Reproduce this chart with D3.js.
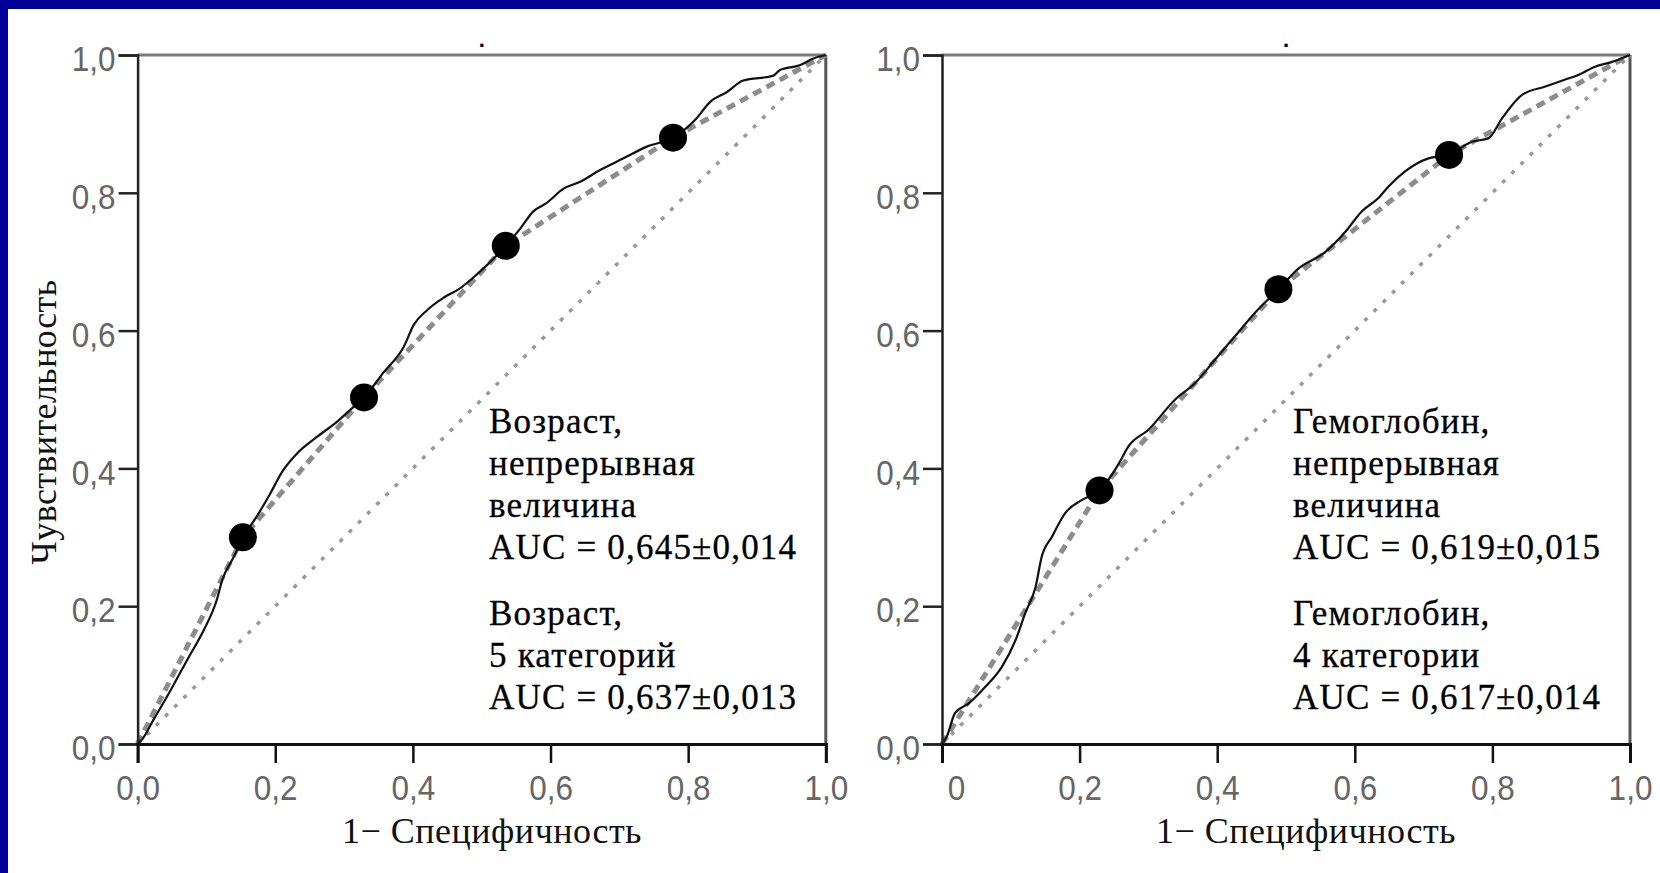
<!DOCTYPE html>
<html>
<head>
<meta charset="utf-8">
<script src="https://cdn.jsdelivr.net/npm/d3@7"></script>
<style>
  body { margin: 0; background: #fff; }
  svg { display: block; }
</style>
</head>
<body>
<svg id="chart" width="1660" height="873"></svg>
<script>
// tick values and labels
var ticks = [0, 0.2, 0.4, 0.6, 0.8, 1.0];
var yTickLabels = ["0,0", "0,2", "0,4", "0,6", "0,8", "1,0"];
var xTickLabelsLeft = ["0,0", "0,2", "0,4", "0,6", "0,8", "1,0"];
var xTickLabelsRight = ["0", "0,2", "0,4", "0,6", "0,8", "1,0"];

// Возраст: непрерывная величина (1-спец., чувств.)
var ageContinuous = [
  [0, 0], [0.006, 0.006], [0.023, 0.035], [0.048, 0.078], [0.072, 0.122],
  [0.096, 0.165], [0.115, 0.209], [0.123, 0.238], [0.140, 0.272], [0.153, 0.300],
  [0.173, 0.330], [0.193, 0.364], [0.210, 0.395], [0.232, 0.422], [0.261, 0.446],
  [0.290, 0.468], [0.309, 0.485], [0.329, 0.503], [0.358, 0.540], [0.387, 0.577],
  [0.401, 0.608], [0.421, 0.630], [0.445, 0.648], [0.468, 0.661], [0.498, 0.686],
  [0.535, 0.723], [0.556, 0.748], [0.575, 0.773], [0.594, 0.785], [0.619, 0.806],
  [0.643, 0.816], [0.672, 0.833], [0.706, 0.850], [0.740, 0.867], [0.778, 0.880],
  [0.812, 0.908], [0.832, 0.932], [0.856, 0.946], [0.880, 0.963], [0.924, 0.970],
  [0.933, 0.978], [0.962, 0.985], [0.982, 0.995], [1, 1]
];
// Возраст: 5 категорий
var ageCategories = [[0, 0], [0.153, 0.300], [0.329, 0.503], [0.535, 0.723], [0.778, 0.880], [1, 1]];
var ageCutPoints = [[0.153, 0.300], [0.329, 0.503], [0.535, 0.723], [0.778, 0.880]];

// Гемоглобин: непрерывная величина
var hbContinuous = [
  [0, 0], [0.007, 0.011], [0.019, 0.045], [0.039, 0.059], [0.063, 0.083],
  [0.087, 0.112], [0.107, 0.151], [0.121, 0.190], [0.136, 0.228], [0.145, 0.272],
  [0.160, 0.301], [0.179, 0.335], [0.203, 0.354], [0.229, 0.368], [0.257, 0.407],
  [0.271, 0.432], [0.300, 0.456], [0.339, 0.500], [0.368, 0.524], [0.397, 0.558],
  [0.426, 0.592], [0.455, 0.626], [0.489, 0.660], [0.518, 0.690], [0.557, 0.714],
  [0.586, 0.743], [0.610, 0.773], [0.634, 0.792], [0.649, 0.809], [0.673, 0.831],
  [0.707, 0.850], [0.737, 0.855], [0.770, 0.874], [0.794, 0.879], [0.814, 0.908],
  [0.843, 0.942], [0.876, 0.954], [0.905, 0.964], [0.925, 0.971], [0.949, 0.983],
  [0.974, 0.990], [1, 1]
];
// Гемоглобин: 4 категории
var hbCategories = [[0, 0], [0.229, 0.368], [0.489, 0.660], [0.737, 0.855], [1, 1]];
var hbCutPoints = [[0.229, 0.368], [0.489, 0.660], [0.737, 0.855]];

var diagonal = [[0, 0], [1, 1]];

var legendLeft1 = ["Возраст,", "непрерывная", "величина", "AUC = 0,645±0,014"];
var legendLeft2 = ["Возраст,", "5 категорий", "AUC = 0,637±0,013"];
var legendRight1 = ["Гемоглобин,", "непрерывная", "величина", "AUC = 0,619±0,015"];
var legendRight2 = ["Гемоглобин,", "4 категории", "AUC = 0,617±0,014"];

var svg = d3.select("#chart");
var sans = "'Liberation Sans', Arial, sans-serif";
var serif = "'Liberation Serif', 'Times New Roman', serif";
var squeeze = 0.9;   // tick labels are a bit narrow in the original

// blue slide frame (top and left)
svg.append("rect").attr("x", 0).attr("y", 0).attr("width", 1660).attr("height", 9).style("fill", "#000096");
svg.append("rect").attr("x", 0).attr("y", 0).attr("width", 8).attr("height", 873).style("fill", "#000096");

function panel(x0, x1, cont, cats, cuts, xLabels, legend1, legend2, legendX, xTitleX, showYTitle) {
  var x = d3.scaleLinear().domain([0, 1]).range([x0, x1]);
  var y = d3.scaleLinear().domain([0, 1]).range([744, 55]);

  // top and right frame
  svg.append("line").attr("x1", x(0)).attr("x2", x(1)).attr("y1", y(1)).attr("y2", y(1))
    .style("stroke", "#7a7a7a").style("stroke-width", 3);
  svg.append("line").attr("x1", x(1)).attr("x2", x(1)).attr("y1", y(1)).attr("y2", y(0))
    .style("stroke", "#555").style("stroke-width", 3);

  var line = d3.line().x(function(d) { return x(d[0]); }).y(function(d) { return y(d[1]); });

  svg.append("path").datum(diagonal).attr("d", line)
    .style("fill", "none").style("stroke", "#999").style("stroke-width", 3.5)
    .style("stroke-dasharray", "4,9");

  svg.append("path").datum(cats).attr("d", line)
    .style("fill", "none").style("stroke", "#8c8c8c").style("stroke-width", 5)
    .style("stroke-dasharray", "9,6");

  var smooth = d3.line().x(function(d) { return x(d[0]); }).y(function(d) { return y(d[1]); })
    .curve(d3.curveMonotoneX);
  svg.append("path").datum(cont).attr("d", smooth)
    .style("fill", "none").style("stroke", "#111").style("stroke-width", 2.2);

  svg.append("g").selectAll("circle").data(cuts).enter().append("circle")
    .attr("cx", function(d) { return x(d[0]); })
    .attr("cy", function(d) { return y(d[1]); })
    .attr("r", 14)
    .style("fill", "#000");

  // axes
  var yAxis = svg.append("g").attr("transform", "translate(" + x0 + ",0)")
    .call(d3.axisLeft(y).tickValues(ticks).tickSize(19).tickPadding(3)
      .tickFormat(function(d, i) { return yTickLabels[i]; }));
  yAxis.select(".domain").style("stroke", "#222").style("stroke-width", 2.5);
  yAxis.selectAll(".tick line").style("stroke", "#222").style("stroke-width", 2.5);
  yAxis.selectAll("text").attr("dy", "0.45em")
    .attr("x", -22 / squeeze).attr("transform", "scale(" + squeeze + ",1)")
    .style("font-family", sans).style("font-size", "35px").style("fill", "#666");

  var xAxis = svg.append("g").attr("transform", "translate(0,744)")
    .call(d3.axisBottom(x).tickValues(ticks).tickSize(19).tickPadding(12)
      .tickFormat(function(d, i) { return xLabels[i]; }));
  xAxis.select(".domain").style("stroke", "#111").style("stroke-width", 3);
  xAxis.selectAll(".tick line").style("stroke", "#111").style("stroke-width", 2.5);
  xAxis.selectAll("text")
    .attr("transform", "scale(" + squeeze + ",1)")
    .attr("x", function(d, i) { return xLabels[i] === "0" ? 14 / squeeze : 0; })
    .style("font-family", sans).style("font-size", "35px").style("fill", "#666");

  // little title dot
  svg.append("text").attr("x", (x0 + x1) / 2).attr("y", 47).attr("text-anchor", "middle")
    .style("font-family", sans).style("font-size", "22px").style("font-weight", "bold").text(".");

  // x title
  svg.append("text").attr("x", xTitleX).attr("y", 843).attr("text-anchor", "middle")
    .style("font-family", serif).style("font-size", "36px").style("letter-spacing", "0.5px")
    .style("fill", "#111").text("1− Специфичность");

  if (showYTitle) {
    svg.append("text").attr("transform", "translate(56,422) rotate(-90)").attr("text-anchor", "middle")
      .style("font-family", serif).style("font-size", "36px").style("letter-spacing", "0.4px")
      .style("fill", "#111").text("Чувствительность");
  }

  // legend
  var base1 = [433, 475, 517, 559];
  var base2 = [625, 667, 709];
  svg.append("g").selectAll("text").data(legend1).enter().append("text")
    .attr("x", legendX).attr("y", function(d, i) { return base1[i]; })
    .style("font-family", serif).style("font-size", "35px").style("letter-spacing", "1.2px")
    .style("fill", "#000").style("stroke", "#000").style("stroke-width", 0.3)
    .text(function(d) { return d; });
  svg.append("g").selectAll("text").data(legend2).enter().append("text")
    .attr("x", legendX).attr("y", function(d, i) { return base2[i]; })
    .style("font-family", serif).style("font-size", "35px").style("letter-spacing", "1.2px")
    .style("fill", "#000").style("stroke", "#000").style("stroke-width", 0.3)
    .text(function(d) { return d; });
}

panel(137.6, 825.8, ageContinuous, ageCategories, ageCutPoints, xTickLabelsLeft,
  legendLeft1, legendLeft2, 489, 492, true);
panel(942, 1630, hbContinuous, hbCategories, hbCutPoints, xTickLabelsRight,
  legendRight1, legendRight2, 1293, 1306, false);
</script>
</body>
</html>
